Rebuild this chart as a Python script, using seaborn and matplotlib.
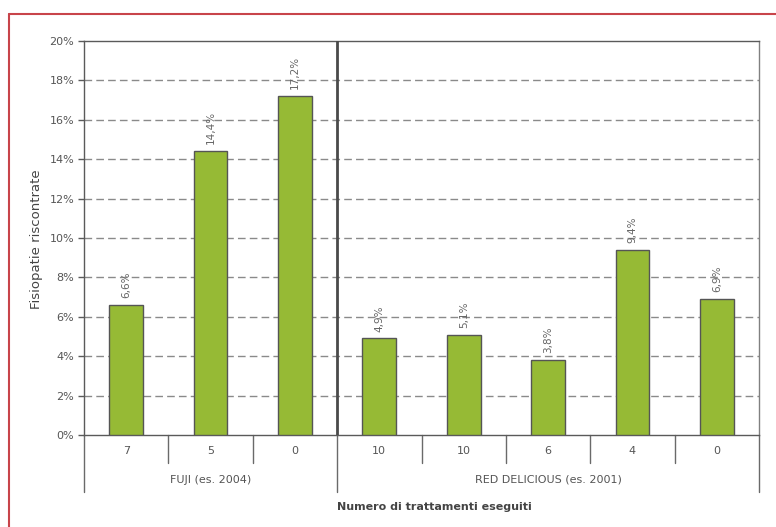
import matplotlib
matplotlib.use("Agg")
import matplotlib.pyplot as plt
import matplotlib.transforms as mtransforms
from matplotlib.lines import Line2D
import seaborn as sns
import pandas as pd

# Data
groups = ["FUJI (es. 2004)", "RED DELICIOUS (es. 2001)"]
group_sizes = [3, 5]
treatments = ["7", "5", "0", "10", "10", "6", "4", "0"]
values = [6.6, 14.4, 17.2, 4.9, 5.1, 3.8, 9.4, 6.9]
value_labels = ["6,6%", "14,4%", "17,2%", "4,9%", "5,1%", "3,8%", "9,4%", "6,9%"]
y_ticks = [0, 2, 4, 6, 8, 10, 12, 14, 16, 18, 20]

sns.set_theme(style="white")
plt.rcParams["font.family"] = ["DejaVu Sans"]

bar_color = "#96BA35"
edge_color = "#555555"
text_color = "#555555"
axis_color = "#5a5a5a"

slots = [f"s{i}" for i in range(len(values))]
df = pd.DataFrame({"slot": slots, "value": values})

fig = plt.figure(figsize=(7.76, 5.27), dpi=100)
ax = fig.add_axes([84 / 776, 1 - 435 / 527, (759 - 84) / 776, (435 - 41) / 527])

sns.barplot(data=df, x="slot", y="value", order=slots, color=bar_color,
            width=0.4, edgecolor=edge_color, linewidth=1.0, saturation=1, ax=ax, zorder=3)

ax.set_xlim(-0.5, len(values) - 0.5)
ax.set_ylim(0, 20)
ax.set_yticks(y_ticks)
ax.set_yticklabels([f"{t}%" for t in y_ticks], fontsize=8, color=text_color)
ax.tick_params(axis="y", length=4, width=1, color=axis_color, pad=3, left=True)

# dashed horizontal grid
for t in y_ticks[1:-1]:
    ax.axhline(t, color="#8a8a8a", linestyle=(0, (5.5, 3)), linewidth=1.0, zorder=1)

for side in ["left", "top", "right", "bottom"]:
    ax.spines[side].set_visible(True)
    ax.spines[side].set_color(axis_color)
    ax.spines[side].set_linewidth(1.0)
ax.spines["right"].set_color("#808080")

# divider between the two varieties
ax.axvline(2.5, color="#4a4a4a", linewidth=2.0, zorder=4)

# value labels above bars
for i, (v, lab) in enumerate(zip(values, value_labels)):
    ax.annotate(lab, xy=(i, v), xytext=(0, 5), textcoords="offset points",
                rotation=90, ha="center", va="bottom", fontsize=7.5, color="#666666")

# category labels and separators below the axis
ax.set_xticks(range(len(values)))
ax.set_xticklabels([])
ax.tick_params(axis="x", length=0, bottom=False)
ax.set_xlabel("")
ax.set_ylabel("")

trans = mtransforms.blended_transform_factory(ax.transData, ax.transAxes)
axh = (435 - 41)
for i, t in enumerate(treatments):
    ax.text(i, -16 / axh, t, transform=trans, ha="center", va="center",
            fontsize=8, color=text_color)

boundaries = [-0.5]
for n in group_sizes:
    boundaries.append(boundaries[-1] + n)
for b in range(len(values) + 1):
    x = b - 0.5
    depth = 57 / axh if x in boundaries else 28 / axh
    ax.add_line(Line2D([x, x], [0, -depth], transform=trans, color="#6a6a6a",
                       linewidth=1.0, clip_on=False))

for g, (lo, hi) in zip(groups, zip(boundaries[:-1], boundaries[1:])):
    ax.text((lo + hi) / 2, -45 / axh, g, transform=trans, ha="center", va="center",
            fontsize=8, color=text_color)

fig.text(434 / 776, 1 - 507 / 527, "Numero di trattamenti eseguiti",
         ha="center", va="center", fontsize=8, fontweight="bold", color="#444444")
fig.text(37 / 776, 1 - 239 / 527, "Fisiopatie riscontrate", rotation=90,
         ha="center", va="center", fontsize=9.5, color="#444444")

# red frame
frame = "#C8444A"
fig.add_artist(Line2D([9 / 776, 1.0], [1 - 14 / 527, 1 - 14 / 527],
                      transform=fig.transFigure, color=frame, linewidth=1.5))
fig.add_artist(Line2D([9 / 776, 9 / 776], [1 - 14 / 527, 0.0],
                      transform=fig.transFigure, color=frame, linewidth=1.5))

fig.savefig("out.png", dpi=100, facecolor="white")
